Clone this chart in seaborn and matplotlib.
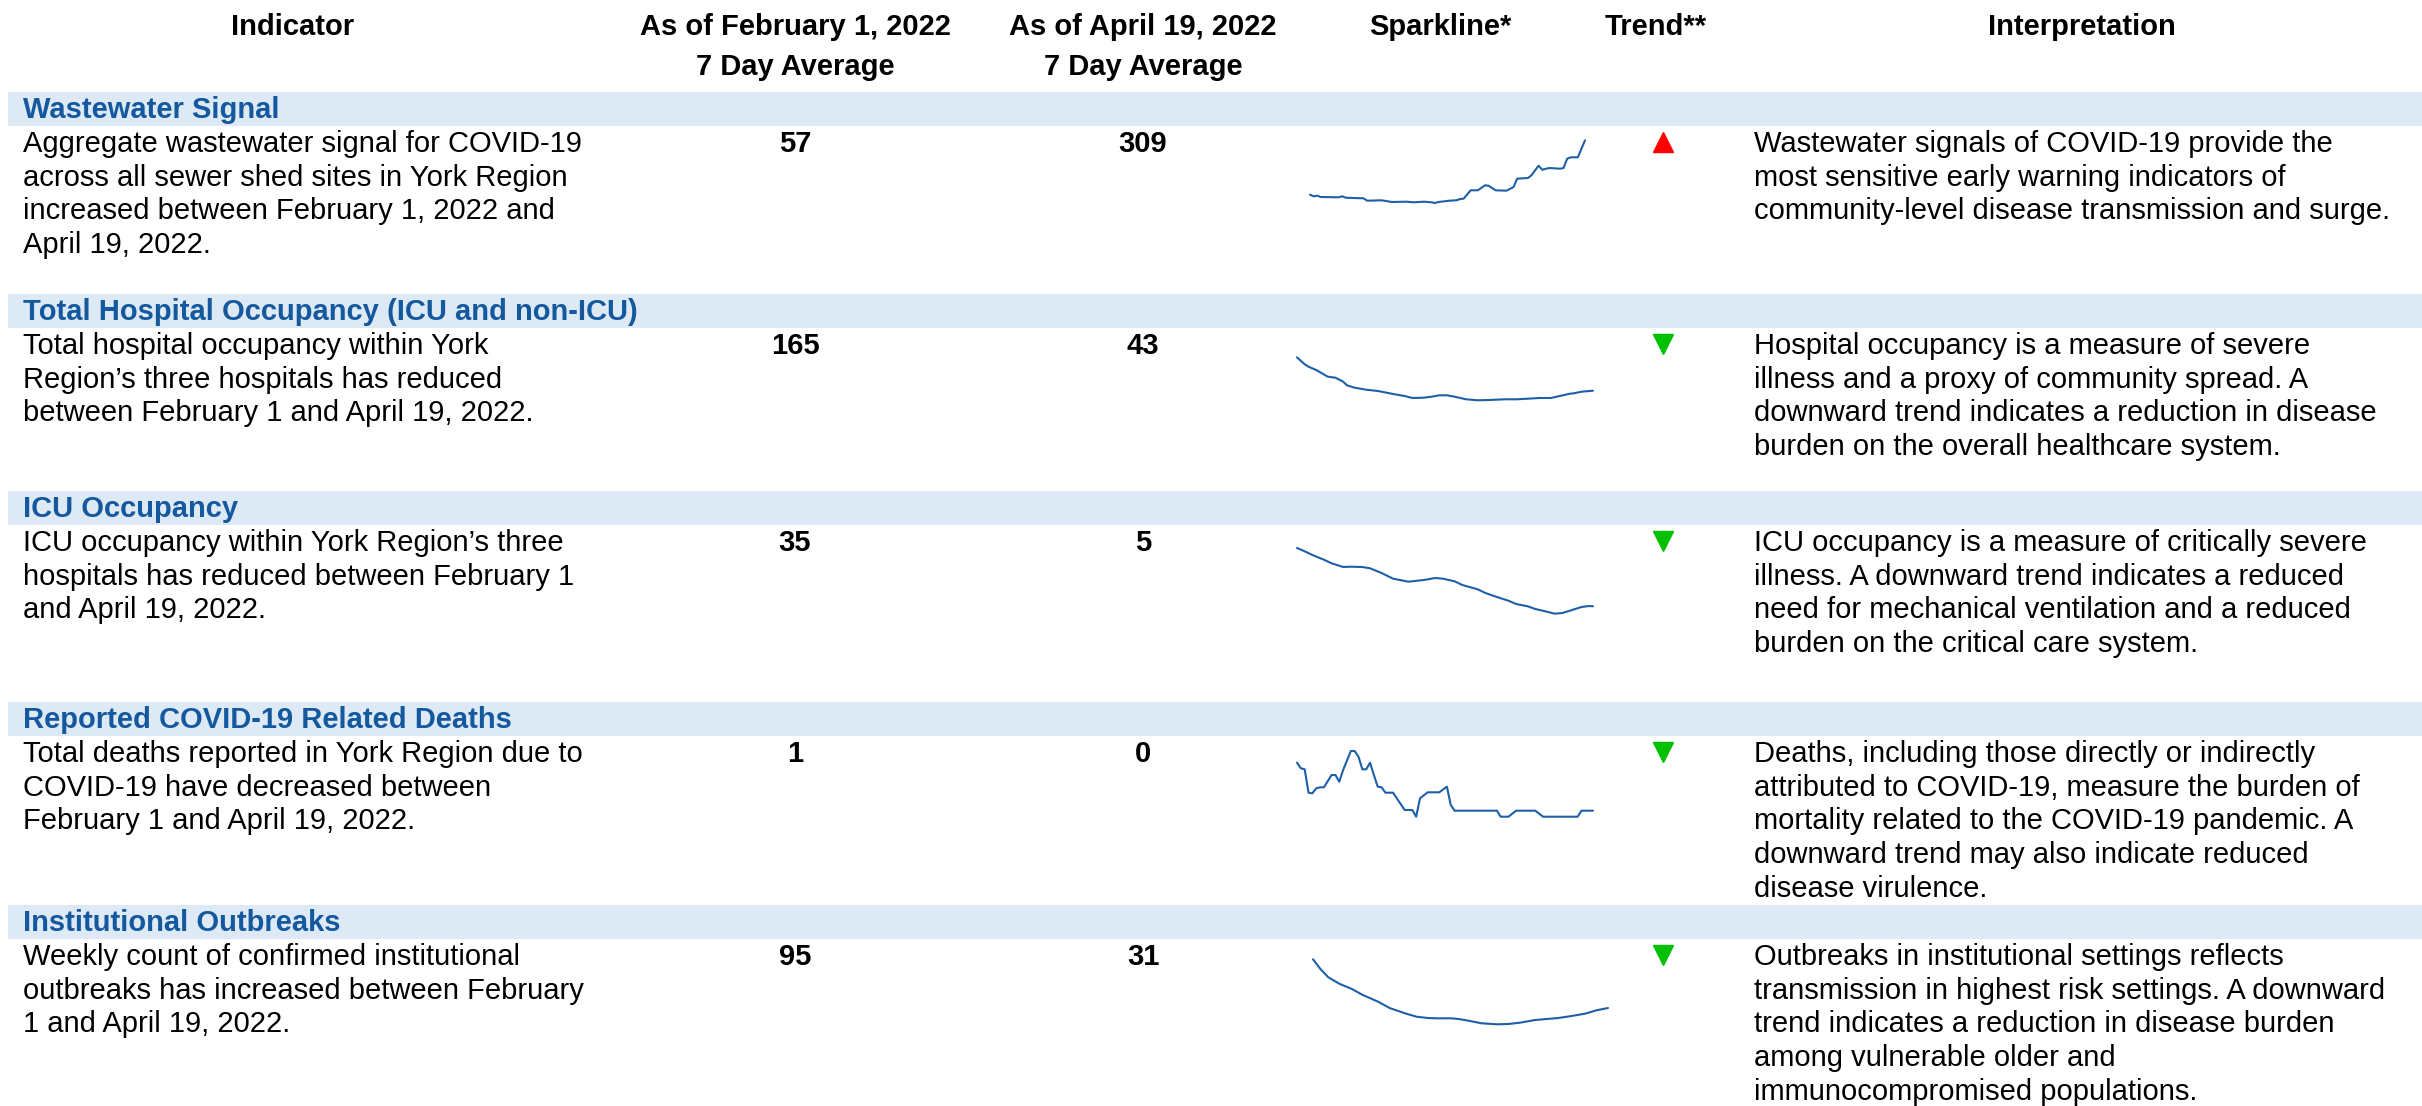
import matplotlib
matplotlib.use("Agg")
import matplotlib.pyplot as plt
from matplotlib.patches import Rectangle
import seaborn as sns

# ---- table content ----
titles = ["Wastewater Signal",
          "Total Hospital Occupancy (ICU and non-ICU)",
          "ICU Occupancy",
          "Reported COVID-19 Related Deaths",
          "Institutional Outbreaks"]

descriptions = [
    ["Aggregate wastewater signal for COVID-19",
     "across all sewer shed sites in York Region",
     "increased between February 1, 2022 and",
     "April 19, 2022."],
    ["Total hospital occupancy within York",
     "Region\u2019s three hospitals has reduced",
     "between February 1 and April 19, 2022."],
    ["ICU occupancy within York Region\u2019s three",
     "hospitals has reduced between February 1",
     "and April 19, 2022."],
    ["Total deaths reported in York Region due to",
     "COVID-19 have decreased between",
     "February 1 and April 19, 2022."],
    ["Weekly count of confirmed institutional",
     "outbreaks has increased between February",
     "1 and April 19, 2022."],
]

feb_values = [57, 165, 35, 1, 95]
apr_values = [309, 43, 5, 0, 31]
trend = ["up", "down", "down", "down", "down"]

interpretations = [
    ["Wastewater signals of COVID-19 provide the",
     "most sensitive early warning indicators of",
     "community-level disease transmission and surge."],
    ["Hospital occupancy is a measure of severe",
     "illness and a proxy of community spread. A",
     "downward trend indicates a reduction in disease",
     "burden on the overall healthcare system."],
    ["ICU occupancy is a measure of critically severe",
     "illness. A downward trend indicates a reduced",
     "need for mechanical ventilation and a reduced",
     "burden on the critical care system."],
    ["Deaths, including those directly or indirectly",
     "attributed to COVID-19, measure the burden of",
     "mortality related to the COVID-19 pandemic. A",
     "downward trend may also indicate reduced",
     "disease virulence."],
    ["Outbreaks in institutional settings reflects",
     "transmission in highest risk settings. A downward",
     "trend indicates a reduction in disease burden",
     "among vulnerable older and",
     "immunocompromised populations."],
]

headers = ["Indicator", "As of February 1, 2022\n7 Day Average",
           "As of April 19, 2022\n7 Day Average", "Sparkline*", "Trend**",
           "Interpretation"]

# ---- sparkline readings (days since Feb 1, relative level) ----
ww_days = [0, 1, 2, 3, 8, 9, 10, 12, 15, 16, 20, 23, 27, 29, 32, 34, 35, 36, 39, 41,
           42, 43, 45, 47, 49, 50, 52, 55, 57, 58, 61, 62, 64, 65, 67, 70, 71, 72, 73, 75, 77]
ww_level = [38.3, 36.7, 37.3, 36.0, 35.7, 36.7, 35.3, 35.0, 34.7, 32.3, 32.7, 31.0, 31.3,
            30.7, 31.3, 30.7, 30.0, 31.0, 32.3, 32.7, 34.0, 34.3, 42.7, 42.7, 47.7, 47.3,
            42.7, 42.3, 46.0, 54.3, 55.0, 57.7, 67.3, 63.3, 65.0, 64.3, 65.0, 74.3, 75.7,
            75.7, 92.7]

hosp_days = [0, 2, 3, 5, 8, 10, 12, 13, 15, 18, 21, 22, 25, 28, 30, 33, 35, 37, 39, 41,
             44, 47, 50, 54, 57, 60, 63, 66, 68, 71, 72, 74, 77]
hosp_level = [82.7, 75.7, 73.3, 70.0, 63.3, 62.3, 58.3, 54.7, 52.3, 50.3, 49.0, 48.3, 46.0,
              44.0, 42.0, 42.3, 43.3, 44.7, 44.7, 43.3, 40.7, 39.7, 40.0, 40.7, 40.7, 41.3,
              42.0, 42.0, 43.7, 46.3, 46.7, 48.3, 49.3]

icu_days = [0, 2, 4, 7, 9, 12, 14, 17, 19, 22, 25, 29, 33, 36, 38, 41, 43, 47, 49, 52,
            55, 57, 60, 62, 65, 67, 69, 71, 74, 76, 77]
icu_level = [85.0, 81.7, 78.0, 73.3, 69.7, 66.0, 66.3, 66.0, 64.7, 60.0, 54.3, 51.3, 53.0,
             55.0, 54.3, 51.7, 48.0, 43.7, 40.0, 36.0, 32.3, 29.0, 26.7, 24.0, 21.3, 19.3,
             20.0, 22.3, 26.0, 27.0, 26.7]

death_days = [0, 1, 2, 3, 4, 5, 6, 7, 9, 10, 11, 12, 14, 15, 16, 17, 18, 19, 20, 21, 22,
              23, 25, 28, 30, 31, 32, 34, 37, 39, 40, 41, 52, 53, 55, 57, 62, 64, 73, 74, 77]
death_level = [67.3, 61.7, 60.7, 37.3, 36.7, 41.7, 42.7, 42.7, 55.0, 55.0, 48.3, 60.0, 79.0,
               79.0, 73.3, 60.7, 60.7, 67.3, 55.0, 43.3, 42.7, 37.3, 37.3, 20.0, 20.0, 13.3,
               31.7, 37.7, 37.7, 43.3, 25.0, 19.3, 19.3, 13.3, 13.3, 19.3, 19.3, 13.3, 13.3,
               19.3, 19.3]

outb_days = [0, 2, 4, 7, 10, 13, 17, 20, 24, 27, 30, 32, 36, 38, 41, 44, 48, 51, 54, 58,
             61, 64, 67, 71, 74, 77]
outb_level = [80.7, 70.7, 62.7, 56.0, 51.3, 45.0, 38.3, 32.0, 26.7, 23.3, 22.0, 21.7, 21.7,
              21.0, 19.0, 16.7, 15.7, 16.0, 17.3, 20.0, 21.0, 22.0, 23.7, 26.3, 29.7, 32.0]

sparks = [(ww_days, ww_level), (hosp_days, hosp_level), (icu_days, icu_level),
          (death_days, death_level), (outb_days, outb_level)]

# ---- layout ----
sns.set_theme(style="white")
plt.rcParams['font.family'] = ['Liberation Sans', 'DejaVu Sans']
plt.rcParams['text.color'] = 'black'

W, H = 2422, 1106
fig = plt.figure(figsize=(W / 100, H / 100), dpi=100)
ax = fig.add_axes([0, 0, 1, 1])
ax.set_xlim(0, W)
ax.set_ylim(H, 0)
ax.axis('off')

BAND = '#DDE9F5'
TITLE_BLUE = '#14589E'
LINE_BLUE = '#1F5FA8'
FS = 21
LS = 33.7

col_x = [293, 795, 1143, 1440, 1656, 2082]
for x, h in zip(col_x, headers):
    for k, part in enumerate(h.split("\n")):
        ax.text(x, 35 + 40 * k, part, ha='center', va='baseline',
                fontsize=FS, fontweight='bold', color='black')

band_tops = [92, 294, 491, 702, 905]
spark_boxes = [(1310, 1585, 233), (1297, 1593, 440), (1297, 1593, 633),
               (1297, 1593, 830), (1313, 1608, 1040)]

for i, top in enumerate(band_tops):
    ax.add_patch(Rectangle((8, top), W - 8, 34, color=BAND, lw=0, zorder=0))
    ax.text(23, top + 26, titles[i], ha='left', va='baseline', fontsize=FS,
            fontweight='bold', color=TITLE_BLUE)
    base = top + 60
    for k, line in enumerate(descriptions[i]):
        ax.text(23, base + LS * k, line, ha='left', va='baseline', fontsize=FS,
                color='black')
    for k, line in enumerate(interpretations[i]):
        ax.text(1754, base + LS * k, line, ha='left', va='baseline', fontsize=FS,
                color='black')
    ax.text(col_x[1], base, str(feb_values[i]), ha='center', va='baseline',
            fontsize=FS, fontweight='bold', color='black')
    ax.text(col_x[2], base, str(apr_values[i]), ha='center', va='baseline',
            fontsize=FS, fontweight='bold', color='black')
    up = trend[i] == "up"
    ax.plot([1663], [base - 10], marker='^' if up else 'v', ms=14.5,
            color='#FF0000' if up else '#00C000', ls='none')

    # sparkline
    x0, x1, ybot = spark_boxes[i]
    sax = fig.add_axes([x0 / W, 1 - ybot / H, (x1 - x0) / W, 100 / H])
    days, level = sparks[i]
    sns.lineplot(x=days, y=level, ax=sax, color=LINE_BLUE, linewidth=1.5)
    for ln in sax.lines:
        ln.set_clip_on(False)
    sax.set_xlim(0, 77)
    sax.set_ylim(0, 100)
    sax.axis('off')
    sax.patch.set_alpha(0)

fig.savefig("out.png", dpi=100)
